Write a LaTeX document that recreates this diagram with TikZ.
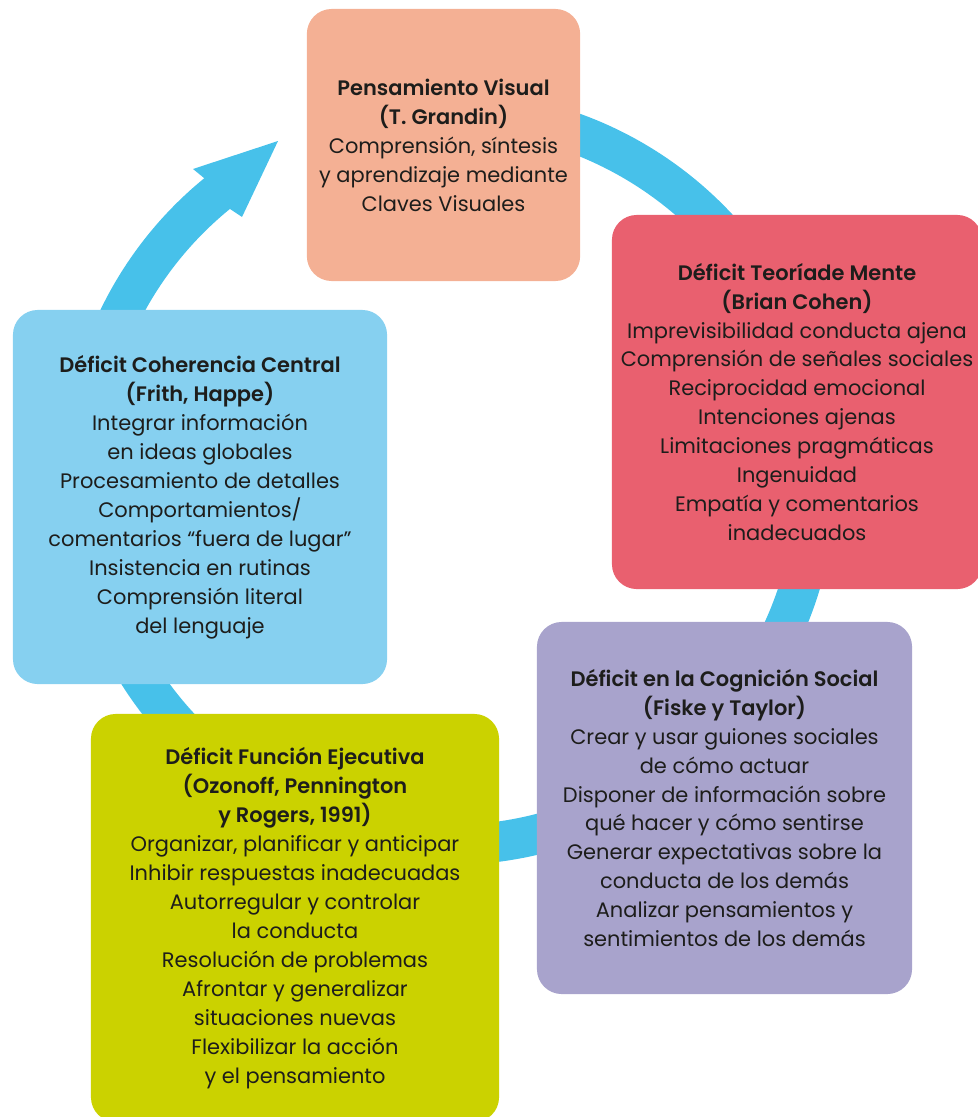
\documentclass[tikz,border=0pt]{standalone}
\usepackage{fontspec}
\setmainfont{Poppins}[BoldFont={Poppins SemiBold}]
\definecolor{ringblue}{HTML}{47C1EA}
\definecolor{peach}{HTML}{F4B094}
\definecolor{rose}{HTML}{E9606F}
\definecolor{skyblue}{HTML}{86D0F0}
\definecolor{lilac}{HTML}{A8A3CC}
\definecolor{olive}{HTML}{CBD200}
\definecolor{ink}{HTML}{1D1D1B}
\begin{document}
\begin{tikzpicture}[x=0.025cm, y=0.025cm, box_style/.style={rounded corners=0.62cm, inner sep=0pt, align=center, text=ink, font=\fontsize{14.9}{20.6}\selectfont}, ring_style/.style={draw=ringblue, line width=1cm}, head_style/.style={fill=ringblue}]
      \useasboundingbox (0,0) rectangle (978,-1117);
      \coordinate (hub) at (449,-478);
      \coordinate (tip) at (278,-141);
      % ring behind the boxes, with its head
      \draw[ring_style] ([shift={(95:367)}]hub) arc[start angle=95, end angle=-231.5, radius=367];
      \fill[head_style] (204,-178) -- (193,-169) -- (tip) -- (242,-217) -- (230,-209) -- cycle;
      \draw
        (443.5,-145) node[box_style, fill=peach, minimum width=6.83cm, minimum height=6.8cm] (visual) {\textbf{Pensamiento Visual}\\ \textbf{(T. Grandin)}\\ Comprensión, síntesis\\ y aprendizaje mediante\\ Claves Visuales}
        (797,-402) node[box_style, fill=rose, minimum width=9.25cm, minimum height=9.35cm] (mente) {\textbf{Déficit Teoríade Mente}\\ \textbf{(Brian Cohen)}\\ Imprevisibilidad conducta ajena\\ Comprensión de señales sociales\\ Reciprocidad emocional\\ Intenciones ajenas\\ Limitaciones pragmáticas\\ Ingenuidad\\ Empatía y comentarios\\ inadecuados}
        (200,-497) node[box_style, fill=skyblue, minimum width=9.35cm, minimum height=9.35cm] (coherencia) {\textbf{Déficit Coherencia Central}\\ \textbf{(Frith, Happe)}\\ Integrar información\\ en ideas globales\\ Procesamiento de detalles\\ Comportamientos/\\ comentarios “fuera de lugar”\\ Insistencia en rutinas\\ Comprensión literal\\ del lenguaje}
        (724.5,-808) node[box_style, fill=lilac, minimum width=9.375cm, minimum height=9.3cm] (social) {\textbf{Déficit en la Cognición Social}\\ \textbf{(Fiske y Taylor)}\\ Crear y usar guiones sociales\\ de cómo actuar\\ Disponer de información sobre\\ qué hacer y cómo sentirse\\ Generar expectativas sobre la\\ conducta de los demás\\ Analizar pensamientos y\\ sentimientos de los demás}
        (295,-918) node[box_style, fill=olive, minimum width=10.2cm, minimum height=10.2cm] (ejecutiva) {\textbf{Déficit Función Ejecutiva}\\ \textbf{(Ozonoff, Pennington}\\ \textbf{y Rogers, 1991)}\\ Organizar, planificar y anticipar\\ Inhibir respuestas inadecuadas\\ Autorregular y controlar\\ la conducta\\ Resolución de problemas\\ Afrontar y generalizar\\ situaciones nuevas\\ Flexibilizar la acción\\ y el pensamiento};
    \end{tikzpicture}
\end{document}
